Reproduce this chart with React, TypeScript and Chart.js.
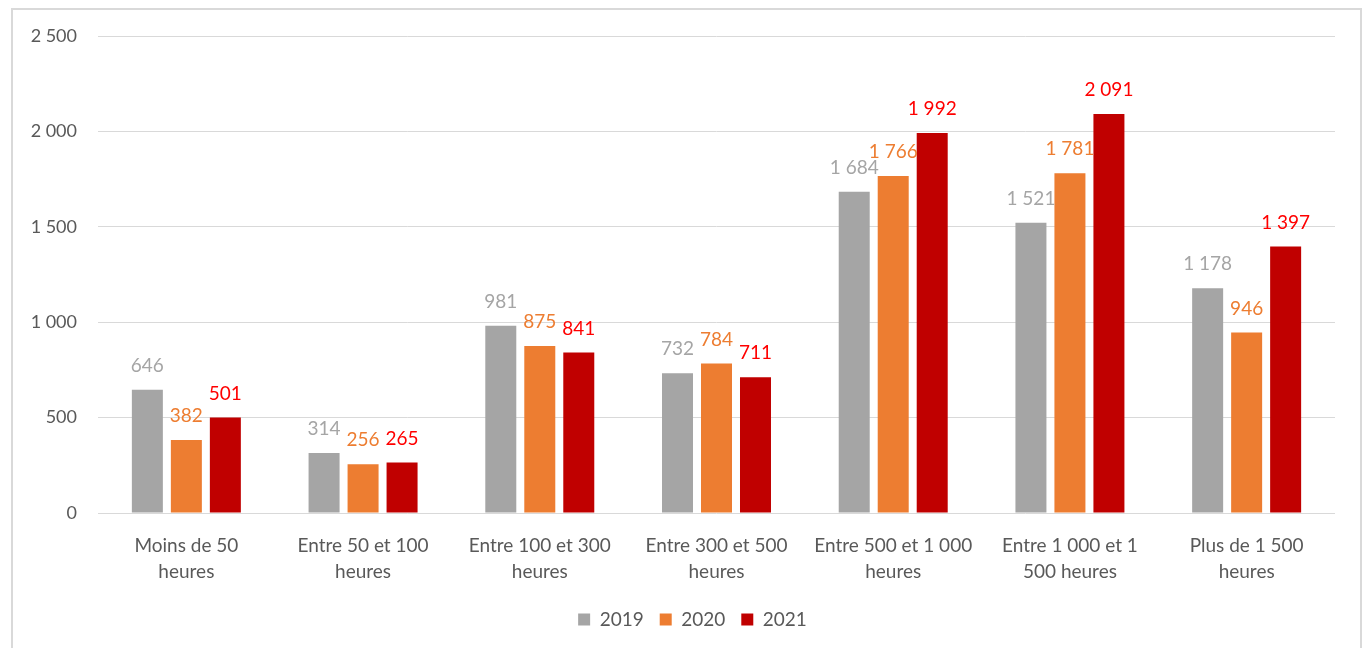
import React, { useEffect, useRef } from "react";
import { Chart, registerables } from "chart.js";

Chart.register(...registerables);

const categories: string[][] = [
  ["Moins de 50", "heures"],
  ["Entre 50 et 100", "heures"],
  ["Entre 100 et 300", "heures"],
  ["Entre 300 et 500", "heures"],
  ["Entre 500 et 1 000", "heures"],
  ["Entre 1 000 et 1", "500 heures"],
  ["Plus de 1 500", "heures"],
];
const seriesNames = ["2019", "2020", "2021"];
const values2019 = [646, 314, 981, 732, 1684, 1521, 1178];
const values2020 = [382, 256, 875, 784, 1766, 1781, 946];
const values2021 = [501, 265, 841, 711, 1992, 2091, 1397];
const barColors = ["#a5a5a5", "#ed7d31", "#c00000"];
const labelColors = ["#a5a5a5", "#ed7d31", "#ff0000"];
const FONT = "Lato, 'Open Sans', sans-serif";

const fmt = (v: number) => String(v).replace(/\B(?=(\d{3})+(?!\d))/g, " ");

const valueLabels = {
  id: "valueLabels",
  afterDatasetsDraw(chart: any) {
    const ctx = chart.ctx;
    ctx.save();
    ctx.font = `19px ${FONT}`;
    ctx.textAlign = "center";
    ctx.textBaseline = "middle";
    chart.data.datasets.forEach((ds: any, i: number) => {
      const meta = chart.getDatasetMeta(i);
      meta.data.forEach((el: any, j: number) => {
        ctx.fillStyle = labelColors[i];
        ctx.fillText(fmt(ds.data[j]), el.x, el.y - 24);
      });
    });
    ctx.restore();
  },
};

const legendShift = {
  id: "legendShift",
  afterLayout(chart: any) {
    if (chart.legend) {
      chart.legend.left += 15;
      chart.legend.right += 15;
    }
  },
};

export default function App() {
  const ref = useRef<HTMLCanvasElement>(null);
  useEffect(() => {
    if (!ref.current) return;
    const chart = new Chart(ref.current, {
      type: "bar",
      data: {
        labels: categories,
        datasets: [values2019, values2020, values2021].map((d, i) => ({
          label: seriesNames[i],
          data: d,
          backgroundColor: barColors[i],
          categoryPercentage: 0.662,
          barPercentage: 0.795,
        })),
      },
      options: {
        animation: false,
        responsive: true,
        maintainAspectRatio: false,
        layout: { padding: { left: 20, right: 30, top: 36, bottom: 9 } },
        plugins: {
          tooltip: { enabled: false },
          legend: {
            position: "bottom",
            labels: {
              boxWidth: 12,
              boxHeight: 12,
              color: "#595959",
              font: { family: FONT, size: 19 },
              padding: 16,
            },
          },
        },
        scales: {
          x: {
            grid: { display: false, drawTicks: false },
            border: { display: false },
            ticks: {
              color: "#595959",
              font: { family: FONT, size: 19, lineHeight: 1.37 },
              maxRotation: 0,
              autoSkip: false,
              padding: 20,
            },
            afterFit: (s: any) => {
              s.height = 81;
            },
          },
          y: {
            min: 0,
            max: 2500,
            border: { display: false },
            grid: { color: "#d9d9d9", lineWidth: 1, drawTicks: false },
            ticks: {
              stepSize: 500,
              color: "#595959",
              font: { family: FONT, size: 18 },
              padding: 21,
              callback: (v: any) => fmt(Number(v)),
            },
            afterFit: (s: any) => {
              s.width = 78;
            },
          },
        },
      },
      plugins: [valueLabels, legendShift],
    });
    return () => chart.destroy();
  }, []);
  return (
    <div style={{ position: "fixed", left: 0, top: 0, width: 1365, height: 648, background: "#fff" }}>
      <div
        style={{
          position: "absolute",
          left: 11,
          top: 8,
          width: 1347,
          height: 660,
          border: "2px solid #d9d9d9",
        }}
      />
      <canvas ref={ref} style={{ position: "absolute", left: 0, top: 0 }} />
    </div>
  );
}
